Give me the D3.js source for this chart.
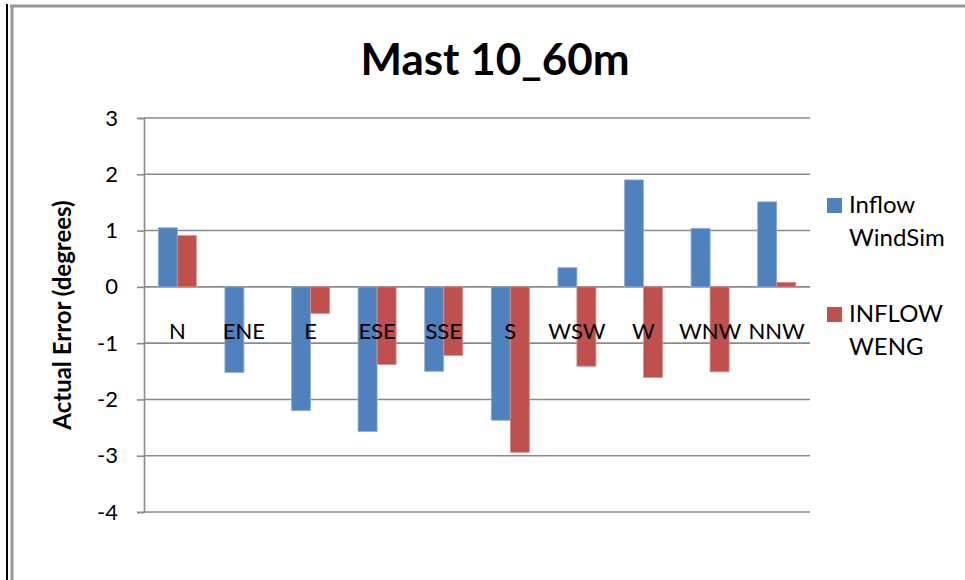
<!DOCTYPE html>
<html>
<head>
<meta charset="utf-8">
<script src="https://cdn.jsdelivr.net/npm/d3@7"></script>
<style>
  html, body { margin: 0; padding: 0; background: #fff; }
  svg { display: block; font-family: Lato, "Open Sans", "Liberation Sans", sans-serif; }
</style>
</head>
<body>
<svg id="chart" width="965" height="580"></svg>
<script>
// Wind sectors along the x axis
const categories = ["N", "ENE", "E", "ESE", "SSE", "S", "WSW", "W", "WNW", "NNW"];
// Actual direction error (degrees) per sector
const inflowWindSim = [1.05, -1.52, -2.20, -2.57, -1.50, -2.37, 0.34, 1.90, 1.04, 1.51];
const inflowWeng    = [0.91, 0.00, -0.47, -1.38, -1.22, -2.94, -1.41, -1.61, -1.51, 0.08];
const yTicks = [3, 2, 1, 0, -1, -2, -3, -4];
const seriesNames = [["Inflow", "WindSim"], ["INFLOW", "WENG"]];
const seriesColors = ["#4F81BD", "#C0504D"];
const seriesStrokes = ["#8FB0DA", "#DB8F8D"];

const svg = d3.select("#chart");

// Frame lines around the chart
svg.append("line").attr("x1", 7).attr("x2", 7).attr("y1", 4).attr("y2", 580)
  .attr("stroke", "#000").attr("stroke-width", 2);
svg.append("line").attr("x1", 12).attr("x2", 12).attr("y1", 5).attr("y2", 580)
  .attr("stroke", "#9a9a9a").attr("stroke-width", 3);
svg.append("line").attr("x1", 10).attr("x2", 965).attr("y1", 6).attr("y2", 6)
  .attr("stroke", "#9a9a9a").attr("stroke-width", 3);

const plot = { left: 144, right: 810, top: 118, bottom: 512 };

const x = d3.scaleBand().domain(categories).range([plot.left, plot.right]);
const y = d3.scaleLinear().domain([-4, 3]).range([plot.bottom, plot.top]);
const barW = x.bandwidth() / 3.5;
const groupOffset = (x.bandwidth() - 2 * barW) / 2;

// Horizontal gridlines
svg.append("g")
  .selectAll("line").data(yTicks).join("line")
  .attr("x1", plot.left).attr("x2", plot.right)
  .attr("y1", d => y(d)).attr("y2", d => y(d))
  .attr("stroke", "#8a8a8a").attr("stroke-width", 1.6);

// Y axis with outward ticks; labels use a plain hyphen for negatives
const yAxis = svg.append("g")
  .attr("transform", `translate(${plot.left},0)`)
  .call(d3.axisLeft(y).tickValues(yTicks).tickSize(7).tickPadding(19).tickFormat(d => String(d)));
yAxis.select(".domain").attr("stroke", "#8a8a8a").attr("stroke-width", 1.6);
yAxis.selectAll(".tick line").attr("stroke", "#8a8a8a").attr("stroke-width", 1.6);
yAxis.selectAll(".tick text")
  .attr("font-family", "Lato, 'Open Sans', sans-serif")
  .attr("font-size", 22).attr("fill", "#000");

// Bars
const seriesData = [inflowWindSim, inflowWeng];
seriesData.forEach((vals, si) => {
  svg.append("g")
    .selectAll("rect").data(vals).join("rect")
    .attr("x", (d, i) => x(categories[i]) + groupOffset + si * barW)
    .attr("y", d => y(Math.max(0, d)))
    .attr("width", barW)
    .attr("height", d => Math.abs(y(d) - y(0)))
    .attr("fill", seriesColors[si])
    .attr("stroke", seriesStrokes[si]).attr("stroke-width", d => d === 0 ? 0 : 0.8);
});

// Category labels drawn just below the zero line
svg.append("g")
  .selectAll("text").data(categories).join("text")
  .attr("x", d => x(d) + x.bandwidth() / 2)
  .attr("y", y(0) + 52)
  .attr("text-anchor", "middle")
  .attr("font-size", 22).attr("fill", "#000")
  .text(d => d);

// Title
svg.append("text")
  .attr("x", 495).attr("y", 75)
  .attr("text-anchor", "middle")
  .attr("font-size", 44).attr("font-weight", "bold").attr("fill", "#000")
  .text("Mast 10_60m");

// Y axis title
svg.append("text")
  .attr("transform", `translate(71,315) rotate(-90)`)
  .attr("text-anchor", "middle")
  .attr("font-size", 24).attr("font-weight", "bold").attr("fill", "#000")
  .text("Actual Error (degrees)");

// Legend
const legend = svg.append("g");
seriesNames.forEach((lines, si) => {
  const top = 198 + si * 109;
  legend.append("rect")
    .attr("x", 827).attr("y", top).attr("width", 15).attr("height", 15)
    .attr("fill", seriesColors[si]);
  lines.forEach((t, li) => {
    legend.append("text")
      .attr("x", 849).attr("y", top + 15 + li * 33)
      .attr("font-size", 24).attr("fill", "#000")
      .text(t);
  });
});
</script>
</body>
</html>
